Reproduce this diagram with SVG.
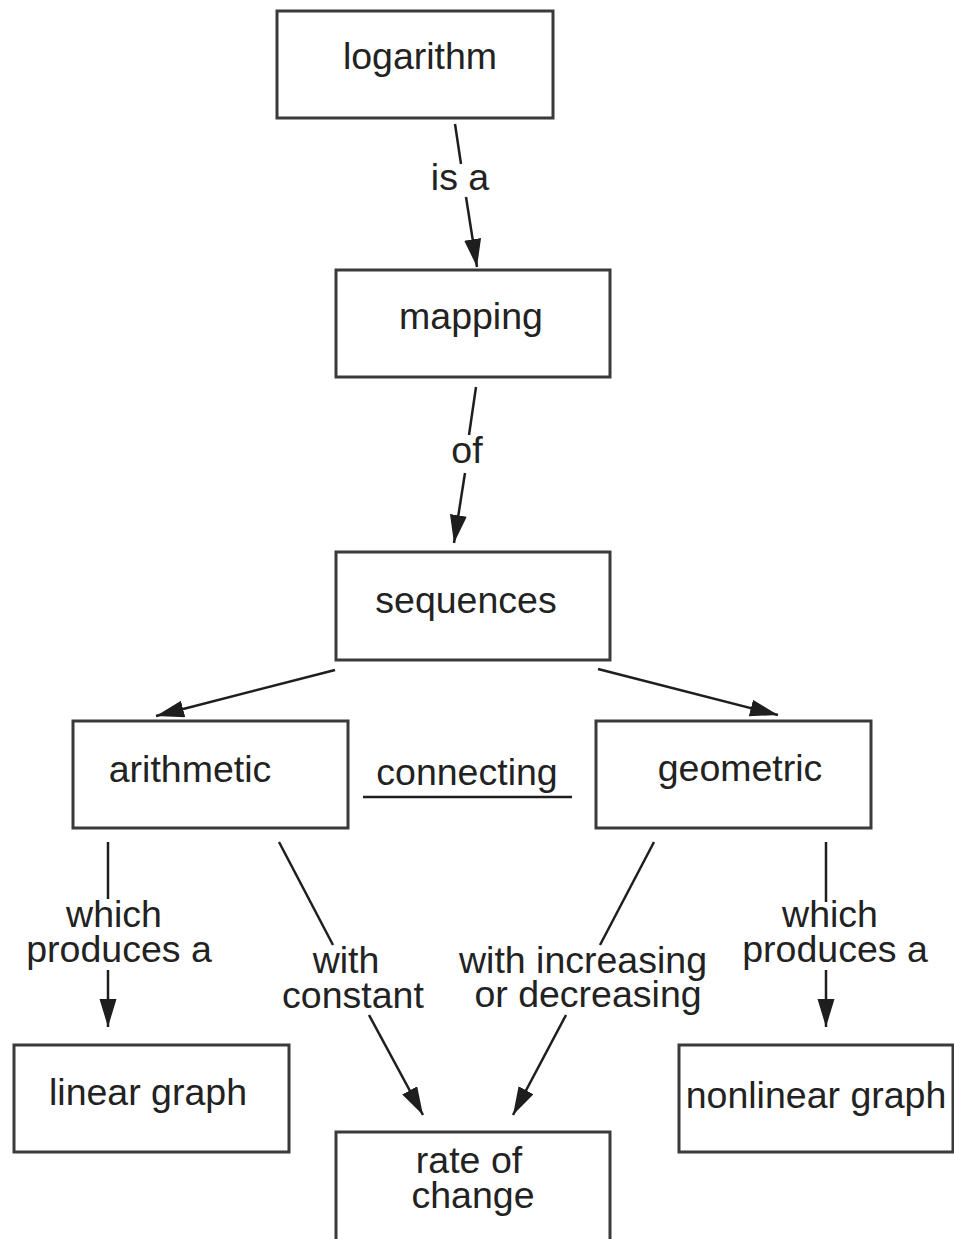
<svg xmlns="http://www.w3.org/2000/svg" width="954" height="1239" viewBox="0 0 954 1239">
  <style>
    .box { fill: #ffffff; stroke: #3a3a3a; stroke-width: 3; }
    .t { font-family: "Liberation Sans", Arial, sans-serif; font-size: 37.5px; fill: #222222; text-anchor: middle; }
    .ln { stroke: #1e1e1e; stroke-width: 2.5; fill: none; }
  </style>
  <defs>
    <marker id="arrow" markerUnits="userSpaceOnUse" markerWidth="30" markerHeight="18" refX="28" refY="8.5" orient="auto">
      <path d="M0,0 L28,8.5 L0,17 Z" fill="#1e1e1e"/>
    </marker>
  </defs>
  <rect width="954" height="1239" fill="#ffffff"/>

  <!-- concept boxes -->
  <g id="logarithm">
    <rect class="box" x="277" y="11" width="276" height="107"/>
    <text class="t" x="420" y="69">logarithm</text>
  </g>
  <g id="mapping">
    <rect class="box" x="336" y="270" width="274" height="107"/>
    <text class="t" x="471" y="329">mapping</text>
  </g>
  <g id="sequences">
    <rect class="box" x="336" y="552" width="274" height="108"/>
    <text class="t" x="466" y="613">sequences</text>
  </g>
  <g id="arithmetic">
    <rect class="box" x="73" y="721" width="275" height="107"/>
    <text class="t" x="190" y="782">arithmetic</text>
  </g>
  <g id="geometric">
    <rect class="box" x="596" y="721" width="275" height="107"/>
    <text class="t" x="740" y="781">geometric</text>
  </g>
  <g id="linear-graph">
    <rect class="box" x="14" y="1045" width="275" height="107"/>
    <text class="t" x="148" y="1105">linear graph</text>
  </g>
  <g id="rate-of-change">
    <rect class="box" x="336" y="1132" width="274" height="110"/>
    <text class="t" x="469" y="1173">rate of</text>
    <text class="t" x="473" y="1208">change</text>
  </g>
  <g id="nonlinear-graph">
    <rect class="box" x="679" y="1045" width="274" height="107"/>
    <text class="t" x="816" y="1108">nonlinear graph</text>
  </g>

  <!-- links and their labels -->
  <g id="connectors">
    <!-- logarithm -> mapping -->
    <line class="ln" x1="455" y1="124" x2="461" y2="164"/>
    <line class="ln" x1="466" y1="197" x2="477" y2="267" marker-end="url(#arrow)"/>
    <text class="t" x="460" y="190">is a</text>

    <!-- mapping -> sequences -->
    <line class="ln" x1="476" y1="387" x2="469" y2="435"/>
    <line class="ln" x1="465" y1="473" x2="454" y2="543" marker-end="url(#arrow)"/>
    <text class="t" x="467" y="463">of</text>

    <!-- sequences -> arithmetic / geometric -->
    <line class="ln" x1="335" y1="670" x2="156" y2="716" marker-end="url(#arrow)"/>
    <line class="ln" x1="598" y1="669" x2="778" y2="715" marker-end="url(#arrow)"/>

    <!-- arithmetic - geometric -->
    <text class="t" x="467" y="785">connecting</text>
    <line class="ln" x1="363" y1="797" x2="572" y2="797"/>

    <!-- arithmetic -> linear graph -->
    <line class="ln" x1="108" y1="842" x2="108" y2="899"/>
    <line class="ln" x1="108" y1="970" x2="108" y2="1027" marker-end="url(#arrow)"/>
    <text class="t" x="114" y="927">which</text>
    <text class="t" x="119" y="962">produces a</text>

    <!-- arithmetic -> rate of change -->
    <line class="ln" x1="279" y1="842" x2="333" y2="945"/>
    <line class="ln" x1="369" y1="1015" x2="423" y2="1115" marker-end="url(#arrow)"/>
    <text class="t" x="346" y="973">with</text>
    <text class="t" x="353" y="1008">constant</text>

    <!-- geometric -> rate of change -->
    <line class="ln" x1="654" y1="842" x2="600" y2="945"/>
    <line class="ln" x1="566" y1="1015" x2="513" y2="1115" marker-end="url(#arrow)"/>
    <text class="t" x="583" y="973">with increasing</text>
    <text class="t" x="588" y="1007">or decreasing</text>

    <!-- geometric -> nonlinear graph -->
    <line class="ln" x1="826" y1="842" x2="826" y2="902"/>
    <line class="ln" x1="826" y1="970" x2="826" y2="1027" marker-end="url(#arrow)"/>
    <text class="t" x="830" y="927">which</text>
    <text class="t" x="835" y="962">produces a</text>
  </g>
</svg>
